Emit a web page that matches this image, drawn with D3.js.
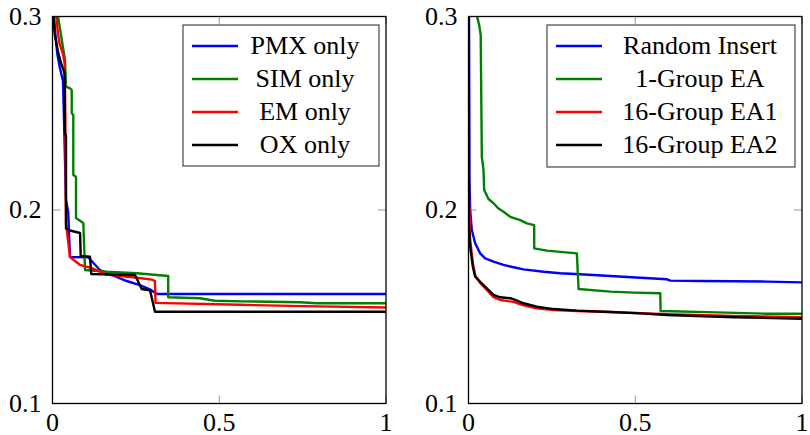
<!DOCTYPE html>
<html>
<head>
<meta charset="utf-8">
<script src="https://cdn.jsdelivr.net/npm/d3@7"></script>
<style>
  body { margin: 0; background: #fff; }
  #chart { width: 810px; height: 435px; }
  text { font-family: "Liberation Serif", "Times New Roman", serif; fill: #000; }
</style>
</head>
<body>
<div id="chart"></div>
<script>
// ticks
const xTicks = [0, 0.5, 1];
const yTicks = [0.1, 0.2, 0.3];
const xTickLabels = ["0", "0.5", "1"];
const yTickLabels = ["0.1", "0.2", "0.3"];

// left panel: single operator runs
const leftNames = ["PMX only", "SIM only", "EM only", "OX only"];
const pmxOnly = [[0.002, 0.305], [0.0084, 0.291], [0.0144, 0.2806], [0.0216, 0.2739], [0.0285, 0.2687],
  [0.0315, 0.2667], [0.0405, 0.205], [0.047, 0.1991], [0.0525, 0.1757], [0.107, 0.1756], [0.142, 0.169],
  [0.2225, 0.1633], [0.262, 0.1612], [0.292, 0.159], [0.3125, 0.1566], [1, 0.1566]];
const simOnly = [[0.012, 0.305], [0.0375, 0.2775], [0.0405, 0.2637], [0.0525, 0.2629], [0.0576, 0.262],
  [0.0576, 0.2501], [0.0624, 0.2491], [0.0624, 0.2181], [0.0705, 0.2172], [0.0705, 0.1959],
  [0.0924, 0.1933], [0.0975, 0.169], [0.1625, 0.1681], [0.2525, 0.1673], [0.347, 0.1659],
  [0.347, 0.1549], [0.442, 0.1544], [0.487, 0.1531], [0.571, 0.1528], [0.742, 0.1523],
  [0.792, 0.1518], [1, 0.1518]];
const emOnly = [[0.009, 0.305], [0.0165, 0.291], [0.0216, 0.2858], [0.0315, 0.2806], [0.0366, 0.2755],
  [0.0375, 0.267], [0.0405, 0.193], [0.0525, 0.1757], [0.0825, 0.1716], [0.118, 0.170],
  [0.163, 0.1666], [0.253, 0.165], [0.298, 0.164], [0.307, 0.1633], [0.309, 0.152],
  [0.562, 0.151], [0.75, 0.1503], [1, 0.1496]];
const oxOnly = [[0.001, 0.305], [0.0066, 0.291], [0.0165, 0.2817], [0.0264, 0.2755], [0.036, 0.2708],
  [0.0375, 0.2396], [0.0405, 0.2382], [0.0405, 0.1905], [0.0525, 0.1894], [0.0825, 0.1881],
  [0.0846, 0.1762], [0.1124, 0.1759], [0.1163, 0.1669], [0.2474, 0.1664], [0.2675, 0.1592],
  [0.2924, 0.1585], [0.3073, 0.1474], [1, 0.1474]];

// right panel: insertion strategies
const rightNames = ["Random Insert", "1-Group EA", "16-Group EA1", "16-Group EA2"];
const randomInsert = [[0.0015, 0.305], [0.003, 0.2155], [0.005, 0.2], [0.01, 0.1897], [0.02, 0.1828],
  [0.035, 0.1776], [0.05, 0.175], [0.075, 0.1733], [0.105, 0.1716], [0.135, 0.1704], [0.165, 0.1693],
  [0.225, 0.1681], [0.275, 0.1673], [0.335, 0.1668], [0.425, 0.1659], [0.515, 0.165],
  [0.595, 0.1642], [0.605, 0.1635], [0.695, 0.1633], [0.895, 0.163], [1, 0.1626]];
const oneGroupEA = [[0.018, 0.305], [0.032, 0.2956], [0.0366, 0.2904], [0.040, 0.2274], [0.045, 0.2207],
  [0.047, 0.2103], [0.06, 0.2057], [0.075, 0.2035], [0.089, 0.2009], [0.105, 0.1991], [0.125, 0.1965],
  [0.155, 0.1948], [0.175, 0.1931], [0.197, 0.1922], [0.197, 0.1802], [0.235, 0.179], [0.325, 0.1776],
  [0.33, 0.1592], [0.425, 0.1578], [0.495, 0.1573], [0.575, 0.157], [0.576, 0.1478], [0.745, 0.1471],
  [0.895, 0.1464], [1, 0.1464]];
const groupEA1 = [[0.0006, 0.305], [0.0015, 0.2052], [0.005, 0.1845], [0.013, 0.1726], [0.02, 0.1664],
  [0.035, 0.1623], [0.055, 0.1587], [0.075, 0.155], [0.095, 0.1535], [0.135, 0.1525], [0.165, 0.1507],
  [0.205, 0.1492], [0.255, 0.1483], [0.325, 0.1478], [0.425, 0.1473], [0.595, 0.1462],
  [0.795, 0.1452], [1, 0.1446]];
const groupEA2 = [[0.0006, 0.305], [0.0006, 0.2155], [0.001, 0.1931], [0.005, 0.181], [0.013, 0.1707],
  [0.02, 0.1655], [0.035, 0.1629], [0.055, 0.1595], [0.075, 0.1561], [0.095, 0.1549], [0.125, 0.1544],
  [0.14, 0.1535], [0.165, 0.1518], [0.205, 0.15], [0.255, 0.1488], [0.325, 0.148], [0.425, 0.1473],
  [0.515, 0.1466], [0.595, 0.1457], [0.795, 0.1446], [1, 0.1438]];

const colors = ["#0000ff", "#008000", "#ff0000", "#000000"];

const width = 810, height = 435;
const svg = d3.select("#chart").append("svg")
  .attr("width", width)
  .attr("height", height);

const panels = [
  { left: 52.5, right: 386, series: [pmxOnly, simOnly, emOnly, oxOnly], names: leftNames,
    legend: { x: 183, y: 25, w: 196, h: 141, textX: 305 } },
  { left: 468.5, right: 802, series: [randomInsert, oneGroupEA, groupEA1, groupEA2], names: rightNames,
    legend: { x: 547, y: 25, w: 248, h: 142, textX: 700 } }
];
const plotTop = 16.5, plotBottom = 403.5;
const fontSize = "26px";

panels.forEach((p, pi) => {
  const x = d3.scaleLinear().domain([0, 1]).range([p.left, p.right]);
  const y = d3.scaleLinear().domain([0.1, 0.3]).range([plotBottom, plotTop]);
  const g = svg.append("g");

  // ticks, all four sides, pointing inward
  const tickLen = 8;
  xTicks.forEach(t => {
    g.append("line").attr("x1", x(t)).attr("x2", x(t)).attr("y1", plotBottom).attr("y2", plotBottom - tickLen)
      .attr("stroke", "#999").attr("stroke-width", 1);
    g.append("line").attr("x1", x(t)).attr("x2", x(t)).attr("y1", plotTop).attr("y2", plotTop + tickLen)
      .attr("stroke", "#999").attr("stroke-width", 1);
  });
  yTicks.forEach(t => {
    g.append("line").attr("x1", p.left).attr("x2", p.left + tickLen).attr("y1", y(t)).attr("y2", y(t))
      .attr("stroke", "#999").attr("stroke-width", 1);
    g.append("line").attr("x1", p.right).attr("x2", p.right - tickLen).attr("y1", y(t)).attr("y2", y(t))
      .attr("stroke", "#999").attr("stroke-width", 1);
  });

  // tick labels
  xTicks.forEach((t, i) => {
    g.append("text").attr("x", x(t)).attr("y", plotBottom + 27)
      .attr("text-anchor", "middle").style("font-size", fontSize).text(xTickLabels[i]);
  });
  yTicks.forEach((t, i) => {
    g.append("text").attr("x", p.left - 11).attr("y", y(t) + 8)
      .attr("text-anchor", "end").style("font-size", fontSize).text(yTickLabels[i]);
  });

  // clip for curves
  svg.append("clipPath").attr("id", "clip" + pi)
    .append("rect").attr("x", p.left).attr("y", plotTop).attr("width", p.right - p.left).attr("height", plotBottom - plotTop);

  const line = d3.line().x(d => x(d[0])).y(d => y(d[1]));
  const curves = g.append("g").attr("clip-path", `url(#clip${pi})`);
  p.series.forEach((s, i) => {
    curves.append("path").datum(s)
      .attr("d", line)
      .attr("fill", "none")
      .attr("stroke", colors[i])
      .attr("stroke-width", 2.4)
      .attr("stroke-linejoin", "round");
  });

  // frame
  g.append("rect").attr("x", p.left).attr("y", plotTop)
    .attr("width", p.right - p.left).attr("height", plotBottom - plotTop)
    .attr("fill", "none").attr("stroke", "#000").attr("stroke-width", 1.3);

  // legend
  const L = p.legend;
  const leg = g.append("g");
  leg.append("rect").attr("x", L.x).attr("y", L.y).attr("width", L.w).attr("height", L.h)
    .attr("fill", "#fff").attr("stroke", "#333").attr("stroke-width", 1.1);
  p.names.forEach((name, i) => {
    const ly = L.y + 21 + i * 33;
    leg.append("line").attr("x1", L.x + 9).attr("x2", L.x + 55).attr("y1", ly).attr("y2", ly)
      .attr("stroke", colors[i]).attr("stroke-width", 2.4);
    leg.append("text").attr("x", L.textX).attr("y", ly + 8)
      .attr("text-anchor", "middle").style("font-size", fontSize).text(name);
  });
});
</script>
</body>
</html>
